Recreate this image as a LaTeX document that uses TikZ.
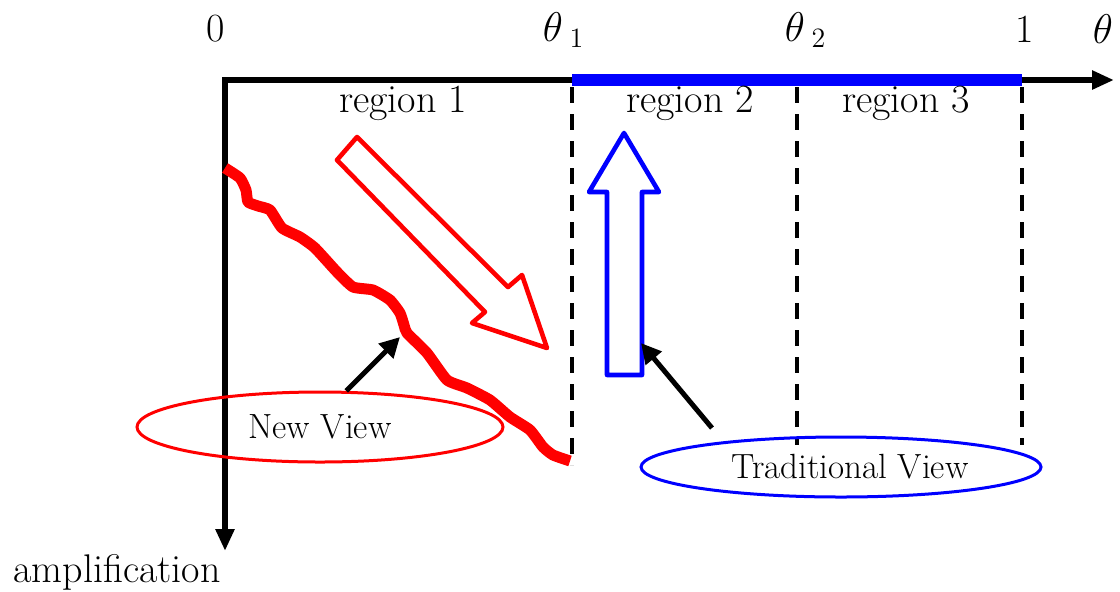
\documentclass[tikz,border=0pt]{standalone}
\usetikzlibrary{arrows.meta,shapes.geometric}
\begin{document}
\begin{tikzpicture}[x=0.5pt,y=-0.5pt,
 lbl/.style={inner sep=0pt,font=\fontsize{20}{22}\selectfont},
 axis/.style={line width=3pt,-{Triangle[length=11pt,width=9pt]}},
 sep/.style={line width=2pt,dash pattern=on 8pt off 5.5pt},
 hollow/.style={line width=2.3pt,line join=round,fill=white},
 pointer/.style={line width=2.5pt,-{Triangle[length=10pt,width=10pt]}},
 view/.style={ellipse,draw,line width=1.5pt,inner sep=0pt,font=\fontsize{17.5}{19}\selectfont}]
\useasboundingbox (0,0) rectangle (1120,591);
% axes
\coordinate (O) at (225,80);
\coordinate (xend) at (1114,80);
\coordinate (yend) at (225,551);
\coordinate (t1) at (572,80);
\coordinate (t2) at (797,80);
\coordinate (one) at (1022,80);
\draw[axis] ([xshift=-1.5pt]O) -- (xend);
\draw[axis] ([yshift=1.5pt]O) -- (yend);
\draw[blue,line width=6pt] (t1) -- (one);
% separators
\coordinate (d1b) at (572,465);
\coordinate (d2b) at (797,445);
\coordinate (d3b) at (1022,445);
\draw[sep] ([yshift=-3.5pt]t1) -- (d1b);
\draw[sep] ([yshift=-3.5pt]t2) -- (d2b);
\draw[sep] ([yshift=-3.5pt]one) -- (d3b);
% labels
\node[lbl] (l0) at (216,29) {0};
\node[lbl] (lt1) at (563,30) {$\theta$\,\raisebox{-3pt}{\fontsize{14}{16}\selectfont 1}};
\node[lbl] (lt2) at (805,30) {$\theta$\,\raisebox{-3pt}{\fontsize{14}{16}\selectfont 2}};
\node[lbl] (l1) at (1025,29) {1};
\node[lbl] (lth) at (1103,29) {$\theta$};
\node[lbl] (r1) at (403,103) {region 1};
\node[lbl] (r2) at (690,103) {region 2};
\node[lbl] (r3) at (906,103) {region 3};
\node[lbl] (amp) at (117,572) {amplification};
% red wavy curve
\draw[red,line width=5.5pt,line join=round] plot[smooth,tension=0.3] coordinates{
(225,168) (240,178) (246,190) (248,202) (258,206) (270,210) (282,228) (300,237) (315,248) (337,272)
(353,287) (373,290) (390,300) (400,313) (404,325) (407,333) (427,353) (447,380) (467,388)
(490,400) (510,417) (530,430) (543,447) (553,455) (570,461)};
% hollow arrows
\draw[red,hollow] (357,137) -- (508,287) -- (522,275) -- (547,348) -- (472,323) -- (485,312) -- (337,160) -- cycle;
\draw[blue,hollow] (624,133) -- (659,192) -- (642,192) -- (642,375) -- (607,375) -- (607,192) -- (589,192) -- cycle;
% views
\node[view,red,text=black,minimum width=183pt,minimum height=35pt] (nv) at (320,427) {New View\hspace{7pt}};
\node[view,blue,text=black,minimum width=200pt,minimum height=30pt] (tv) at (841,467) {\hspace{9pt}Traditional View};
\coordinate (nvend) at (400,337);
\coordinate (tvstart) at (712,428);
\coordinate (tvend) at (641,343);
\draw[pointer] (nv.54) -- (nvend);
\draw[pointer] (tvstart) -- (tvend);
\end{tikzpicture}
\end{document}
